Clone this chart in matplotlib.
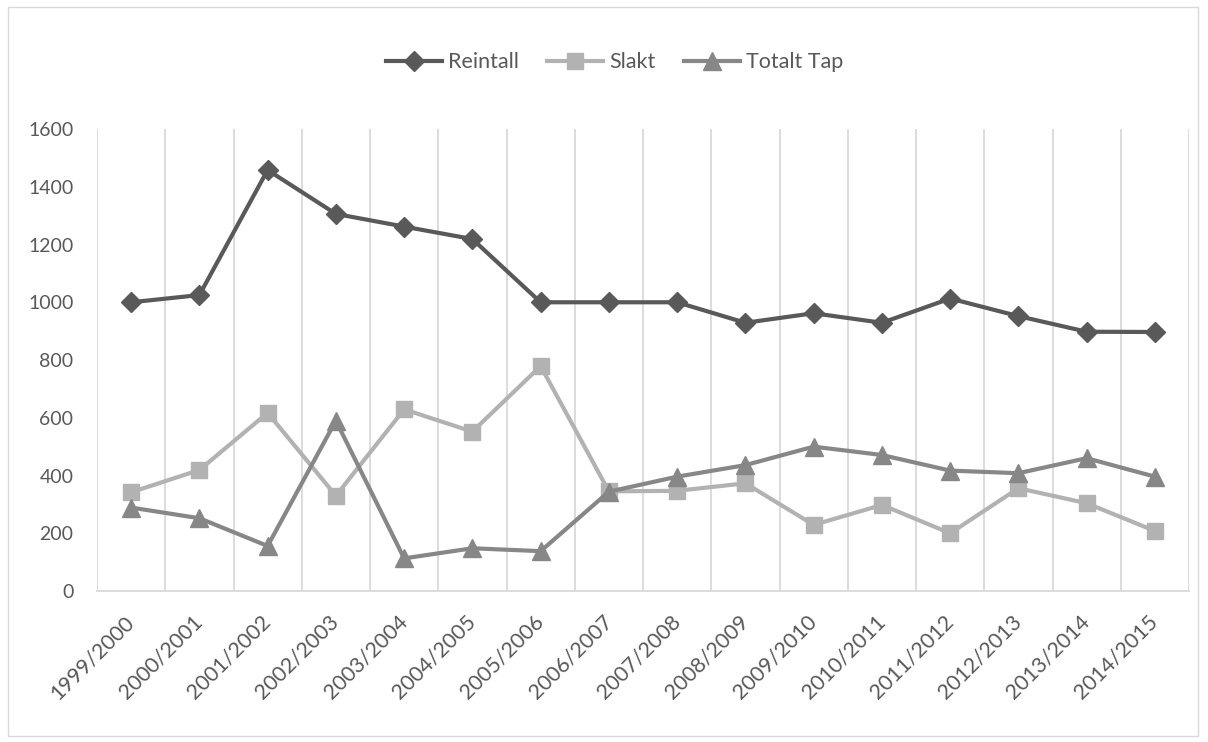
import matplotlib.pyplot as plt
import numpy as np

seasons = ["1999/2000", "2000/2001", "2001/2002", "2002/2003", "2003/2004",
           "2004/2005", "2005/2006", "2006/2007", "2007/2008", "2008/2009",
           "2009/2010", "2010/2011", "2011/2012", "2012/2013", "2013/2014",
           "2014/2015"]
reintall = [1000, 1025, 1458, 1306, 1262, 1219, 1000, 1000, 1000, 929,
            962, 929, 1013, 952, 898, 897]
slakt = [342, 419, 617, 330, 629, 552, 779, 345, 347, 373,
         229, 298, 200, 356, 304, 208]
totalt_tap = [289, 252, 156, 590, 113, 148, 138, 344, 396, 436,
              500, 471, 417, 408, 460, 396]

plt.rcParams['font.family'] = ['Lato', 'DejaVu Sans']

fig = plt.figure(figsize=(12.08, 7.42), dpi=100)
ax = fig.add_axes([0.0803, 0.2035, 0.9040, 0.6226])

x = np.arange(len(seasons))
ax.plot(x, reintall, color="#595959", lw=3, marker="D", ms=10, label="Reintall")
ax.plot(x, slakt, color="#b2b2b2", lw=3, marker="s", ms=12, label="Slakt")
ax.plot(x, totalt_tap, color="#878787", lw=3, marker="^", ms=13, label="Totalt Tap")

ax.set_xlim(-0.5, len(seasons) - 0.5)
ax.set_ylim(0, 1600)
ax.set_yticks(range(0, 1601, 200))
ax.tick_params(axis="y", length=0, pad=17, labelsize=14, labelcolor="#595959")

ax.set_xticks(x)
ax.set_xticklabels(seasons, rotation=45, ha="right", va="center", rotation_mode="anchor")
ax.tick_params(axis="x", length=0, pad=20, labelsize=15.5, labelcolor="#595959")

# vertical lines between the categories
for b in np.arange(-0.5, len(seasons), 1.0):
    ax.axvline(b, color="#d9d9d9", lw=1.3, zorder=0)

for side in ["top", "right", "left"]:
    ax.spines[side].set_visible(False)
ax.spines["bottom"].set_color("#d9d9d9")
ax.spines["bottom"].set_linewidth(1.3)

ax.legend(loc="center", bbox_to_anchor=(0.474, 1.145), ncol=3, frameon=False,
          fontsize=15.5, labelcolor="#595959", handlelength=2.6, handletextpad=0.3,
          columnspacing=1.3)

# chart border
fig.patches.append(plt.Rectangle((0.007, 0.008), 0.985, 0.982, transform=fig.transFigure,
                                 fill=False, edgecolor="#d9d9d9", lw=1))

plt.savefig("out.png", dpi=100)
